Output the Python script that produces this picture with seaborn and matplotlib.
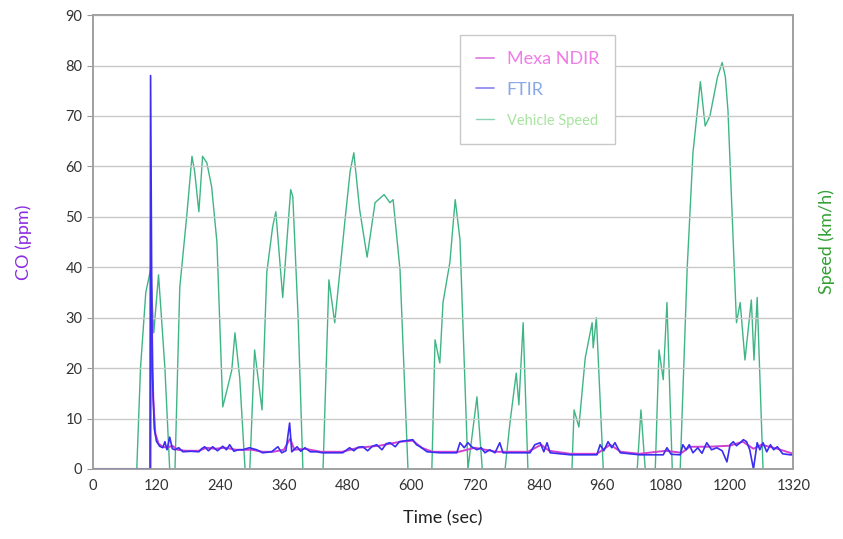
import numpy as np
import pandas as pd
import matplotlib
matplotlib.use("Agg")
import matplotlib.pyplot as plt
import seaborn as sns

# vehicle speed trace (time in s, km/h)
speed_t = [0, 83, 90, 100, 104, 109, 115, 124, 136, 145, 155, 164, 177, 187, 192, 200, 207, 215, 224,
           234, 245, 253, 262, 268, 277, 287, 296, 305, 319, 328, 339, 345, 358, 373, 377, 387, 396,
           434, 445, 456, 466, 475, 485, 492, 503, 517, 532, 549, 560, 566, 579, 594, 639, 645, 654,
           660, 673, 683, 692, 707, 724, 734, 777, 786, 798, 803, 811, 820, 903, 907, 916, 928, 941,
           943, 949, 962, 1026, 1033, 1041, 1060, 1067, 1075, 1082, 1092, 1107, 1120, 1131, 1145,
           1154, 1163, 1177, 1186, 1192, 1197, 1213, 1220, 1229, 1241, 1246, 1252, 1263, 1320]
speed_v = [0, 0, 20, 35, 37, 39.5, 27, 38.5, 20, 0, 0, 36, 50, 62, 59, 51, 62, 60.7, 56,
           45, 12.3, 15.7, 19.6, 27, 18, 0, 0, 23.6, 11.7, 39, 48, 51, 34, 55.4, 54, 30, 0,
           0, 37.5, 29, 39.5, 49, 59, 62.7, 51.4, 42, 52.8, 54.4, 52.8, 53.4, 39.5, 0, 0, 25.6, 21,
           33, 41, 53.4, 45.5, 0, 14.3, 0, 0, 9, 19, 12.7, 29, 0, 0, 11.7, 8.3, 22, 29,
           24, 30, 0, 0, 11.7, 0, 0, 23.6, 17.7, 33, 0, 0, 39.5, 62.7, 76.8,
           68, 70, 77.6, 80.6, 77.8, 71, 29, 33, 21.6, 33.5, 21.6, 34, 0, 0]

# FTIR CO (ppm)
ftir_t = [0, 108, 109, 112, 116, 120, 126, 132, 136, 140, 145, 150, 155, 162, 170, 185, 200, 205, 211,
          218, 226, 235, 245, 252, 258, 266, 274, 283, 295, 309, 320, 337, 349, 356, 364, 371, 375,
          385, 392, 400, 410, 422, 433, 471, 484, 492, 500, 509, 518, 527, 535, 545, 553, 560, 570,
          578, 590, 603, 610, 617, 630, 654, 686, 692, 700, 707, 714, 724, 732, 739, 748, 758, 767,
          773, 824, 833, 843, 850, 856, 862, 900, 950, 956, 963, 971, 978, 984, 994, 1031, 1075,
          1082, 1090, 1107, 1112, 1118, 1124, 1131, 1140, 1148, 1157, 1166, 1176, 1186, 1195, 1201,
          1207, 1213, 1220, 1226, 1232, 1238, 1245, 1252, 1257, 1263, 1270, 1277, 1283, 1290, 1300,
          1314, 1320]
ftir_v = [0, 0, 78, 20, 8, 5.5, 4.5, 4.2, 5.4, 3.8, 6.3, 4, 3.8, 4.2, 3.4, 3.5, 3.4, 4, 4.4,
          3.6, 4.4, 3.6, 4.5, 3.8, 4.8, 3.5, 3.8, 3.8, 4.2, 3.8, 3.2, 3.4, 4.4, 3.2, 3.6, 9.1, 3.4,
          4.4, 3.5, 4.2, 3.4, 3.4, 3.2, 3.2, 4.2, 3.6, 4.3, 4.4, 3.6, 4.5, 4.8, 3.8, 5, 5.2, 4.4,
          5.4, 5.6, 5.8, 4.8, 4.4, 3.4, 3.2, 3.2, 5.2, 4.2, 5.2, 4.4, 3.8, 4.2, 3.2, 3.8, 3.2, 5.2,
          3.2, 3.2, 4.8, 5.2, 3.4, 5.2, 3.2, 2.8, 2.8, 4.8, 3.6, 5.4, 4.2, 5.2, 3.2, 2.8, 2.8,
          4.2, 2.9, 2.8, 4.8, 3.8, 4.8, 3.2, 4.2, 3.1, 5.2, 3.8, 4.2, 3.6, 1.4, 4.8,
          5.4, 4.6, 5.2, 5.8, 5.4, 3.8, 0, 5.2, 3.8, 5.2, 3.4, 4.8, 3.8, 4.4, 3,
          2.8, 2.8]

# Mexa NDIR CO (ppm)
mexa_t = [0, 109, 110, 114, 118, 124, 132, 140, 150, 160, 175, 200, 215, 230, 250, 270, 300, 320,
          340, 360, 372, 380, 400, 430, 470, 500, 540, 580, 603, 620, 640, 690, 720, 760, 820, 845,
          860, 900, 950, 975, 995, 1030, 1080, 1110, 1125, 1160, 1200, 1225, 1245, 1260, 1290, 1320]
mexa_v = [0, 0, 38, 14, 7, 5, 4.4, 4.2, 4.6, 3.8, 3.6, 3.6, 4.2, 4, 4.2, 3.8, 3.8, 3.4,
          3.4, 3.8, 6, 3.8, 4, 3.4, 3.4, 4.2, 4.6, 5.4, 5.6, 4.2, 3.4, 3.4, 4.2, 3.4, 3.4, 4.8,
          3.6, 3.0, 3.0, 4.8, 3.4, 3.0, 3.6, 3.2, 4.4, 4.4, 4.6, 5.4, 4.0, 4.8, 4.0, 3.0]

x_ticks = list(range(0, 1321, 120))
y_ticks = list(range(0, 91, 10))

sns.set_style("white")
plt.rcParams['font.family'] = ['Lato', 'DejaVu Sans']

fig = plt.figure(figsize=(8.43, 5.39), dpi=100)
ax = fig.add_axes([0.110, 0.130, 0.831, 0.842])
ax2 = ax.twinx()

# speed on the secondary axis, same 0-90 range
sns.lineplot(x=speed_t, y=speed_v, ax=ax2, color='#3fb585', linewidth=1.0, label='Vehicle Speed', legend=False)
sns.lineplot(x=mexa_t, y=mexa_v, ax=ax, color='#d040d0', linewidth=1.4, label='Mexa NDIR', legend=False)
sns.lineplot(x=ftir_t, y=ftir_v, ax=ax, color='#3a2ef0', linewidth=1.2, label='FTIR', legend=False)

for a in (ax, ax2):
    a.set_xlim(0, 1320)
    a.set_ylim(0, 90)
ax2.set_yticks([])
ax.set_zorder(ax2.get_zorder() + 1)
ax.patch.set_visible(False)

ax.set_xticks(x_ticks)
ax.set_yticks(y_ticks)
ax.yaxis.grid(True, color='#c8c8c8', linewidth=1.0)
ax.set_axisbelow(True)
ax.tick_params(axis='both', labelsize=10.5, colors='#333333', length=4, width=0.8, direction='out')
ax.tick_params(axis='both', color='#999999')
for a in (ax, ax2):
    for s in a.spines.values():
        s.set_color('#a0a0a0')
        s.set_linewidth(1.2)

ax.set_xlabel('Time (sec)', fontsize=13, color='#222222', labelpad=12)
ax.set_ylabel('CO (ppm)', fontsize=13, color='#8a2be2', labelpad=24)
ax2.set_ylabel('Speed (km/h)', fontsize=13, color='#33a033', labelpad=18)

h1, l1 = ax.get_legend_handles_labels()
h2, l2 = ax2.get_legend_handles_labels()
leg = ax.legend(h1 + h2, l1 + l2, loc='upper left', bbox_to_anchor=(0.524, 0.956),
                borderaxespad=0, frameon=True, fancybox=False, edgecolor='#c8c8c8', framealpha=1,
                handlelength=1.0, handletextpad=0.7, borderpad=0.9, labelspacing=0.8,
                fontsize=13)
txt_colors = ['#f07ce8', '#8aa8e8', '#a8e4a0']
txt_sizes = [13, 13, 10.5]
for t, c, sz in zip(leg.get_texts(), txt_colors, txt_sizes):
    t.set_color(c)
    t.set_fontsize(sz)
for lh in leg.get_lines():
    lh.set_alpha(0.6)

fig.savefig('out.png', dpi=100)
